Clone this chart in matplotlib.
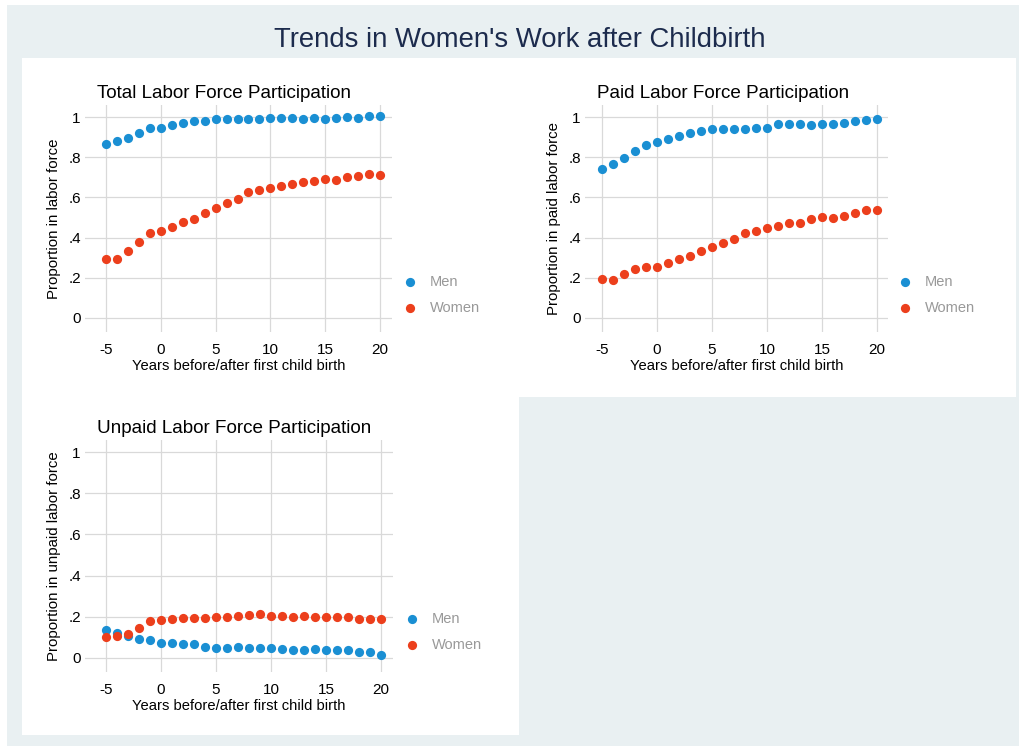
import matplotlib
matplotlib.use("Agg")
import matplotlib.pyplot as plt
from matplotlib.patches import Rectangle
import numpy as np

plt.rcParams['font.family'] = ['Liberation Sans', 'DejaVu Sans']
plt.rcParams['axes.unicode_minus'] = False

years = list(range(-5, 21))

total_men = [0.867, 0.882, 0.898, 0.92, 0.945, 0.945, 0.958, 0.968, 0.978, 0.978,
             0.99, 0.99, 0.99, 0.99, 0.99, 0.995, 0.995, 0.995, 0.99, 0.995,
             0.99, 0.995, 1.0, 0.995, 1.005, 1.005]
total_women = [0.295, 0.295, 0.332, 0.378, 0.425, 0.432, 0.453, 0.478, 0.495, 0.523,
               0.545, 0.57, 0.592, 0.628, 0.638, 0.648, 0.655, 0.665, 0.675, 0.682,
               0.69, 0.685, 0.702, 0.707, 0.718, 0.713]

paid_men = [0.74, 0.767, 0.798, 0.83, 0.863, 0.878, 0.89, 0.905, 0.922, 0.932,
            0.942, 0.942, 0.942, 0.942, 0.947, 0.947, 0.963, 0.963, 0.963, 0.958,
            0.963, 0.963, 0.968, 0.978, 0.985, 0.99]
paid_women = [0.193, 0.188, 0.217, 0.242, 0.253, 0.253, 0.273, 0.293, 0.31, 0.332,
              0.353, 0.373, 0.395, 0.422, 0.433, 0.448, 0.458, 0.475, 0.475, 0.492,
              0.503, 0.498, 0.508, 0.523, 0.535, 0.535]

unpaid_men = [0.137, 0.12, 0.107, 0.092, 0.087, 0.072, 0.069, 0.064, 0.064, 0.054,
              0.048, 0.048, 0.054, 0.048, 0.048, 0.048, 0.04, 0.035, 0.035, 0.043,
              0.035, 0.035, 0.035, 0.025, 0.025, 0.015]
unpaid_women = [0.102, 0.107, 0.117, 0.142, 0.177, 0.184, 0.187, 0.192, 0.192, 0.192,
                0.197, 0.197, 0.202, 0.207, 0.212, 0.202, 0.202, 0.197, 0.202, 0.197,
                0.197, 0.197, 0.197, 0.187, 0.187, 0.187]

yticks = [0, 0.2, 0.4, 0.6, 0.8, 1]
ytick_labels = ['0', '.2', '.4', '.6', '.8', '1']
xticks = [-5, 0, 5, 10, 15, 20]

BLUE = '#1a8fd3'
RED = '#ec3f1c'
W, H = 1020, 746

fig = plt.figure(figsize=(W / 100, H / 100), dpi=100, facecolor='white')

def box(x0, y0, x1, y1):
    # pixel box (top-left origin) -> figure fraction
    return [x0 / W, 1 - y1 / H, (x1 - x0) / W, (y1 - y0) / H]

bg = fig.add_axes([0, 0, 1, 1])
bg.set_xlim(0, W)
bg.set_ylim(H, 0)
bg.axis('off')
bg.add_patch(Rectangle((7, 5), W - 7, H - 5, color='#e9f0f2', lw=0))
bg.add_patch(Rectangle((22, 58), 1016 - 22, 397 - 58, color='white', lw=0))
bg.add_patch(Rectangle((22, 390), 519 - 22, 735 - 390, color='white', lw=0))
bg.text(520, 40, "Trends in Women's Work after Childbirth", ha='center', va='center',
        fontsize=19.8, color='#1c2b4d')

panels = [
    ((85, 105, 392, 332), (-6.92, 21.1), total_men, total_women,
     'Total Labor Force Participation', 'Proportion in labor force', (410, 282)),
    ((585, 105, 888, 332), (-6.55, 21.0), paid_men, paid_women,
     'Paid Labor Force Participation', 'Proportion in paid labor force', (905, 282)),
    ((85, 440, 393, 672), (-6.92, 21.1), unpaid_men, unpaid_women,
     'Unpaid Labor Force Participation', 'Proportion in unpaid labor force', (412, 619)),
]

for (x0, y0, x1, y1), xl, men, women, title, ylab, (lx, ly) in panels:
    ax = fig.add_axes(box(x0, y0, x1, y1))
    ax.set_facecolor('none')
    ax.scatter(years, men, s=44, color=BLUE, zorder=3, lw=0)
    ax.scatter(years, women, s=44, color=RED, zorder=3, lw=0)
    ax.set_xlim(*xl)
    ax.set_ylim(-0.07, 1.06)
    ax.set_xticks(xticks)
    ax.set_yticks(yticks)
    ax.set_yticklabels(ytick_labels)
    ax.tick_params(axis='y', length=0, labelsize=11, pad=3)
    ax.tick_params(axis='x', length=0, labelsize=11, pad=8)
    ax.grid(True, color='#d9d9d9', lw=0.9)
    for s in ax.spines.values():
        s.set_visible(False)
    ax.set_xlabel('Years before/after first child birth', fontsize=10.6, labelpad=1)
    ax.set_ylabel(ylab, fontsize=10.8, labelpad=5)
    ax.set_title(title, fontsize=13.6, loc='left', x=0.04, pad=5)
    # legend
    bg.scatter([lx], [ly], s=44, color=BLUE, lw=0)
    bg.scatter([lx], [ly + 26], s=44, color=RED, lw=0)
    bg.text(lx + 20, ly, 'Men', va='center', fontsize=10.5, color='#999999')
    bg.text(lx + 20, ly + 26, 'Women', va='center', fontsize=10.5, color='#999999')

fig.savefig('out.png', dpi=100, facecolor='white')
